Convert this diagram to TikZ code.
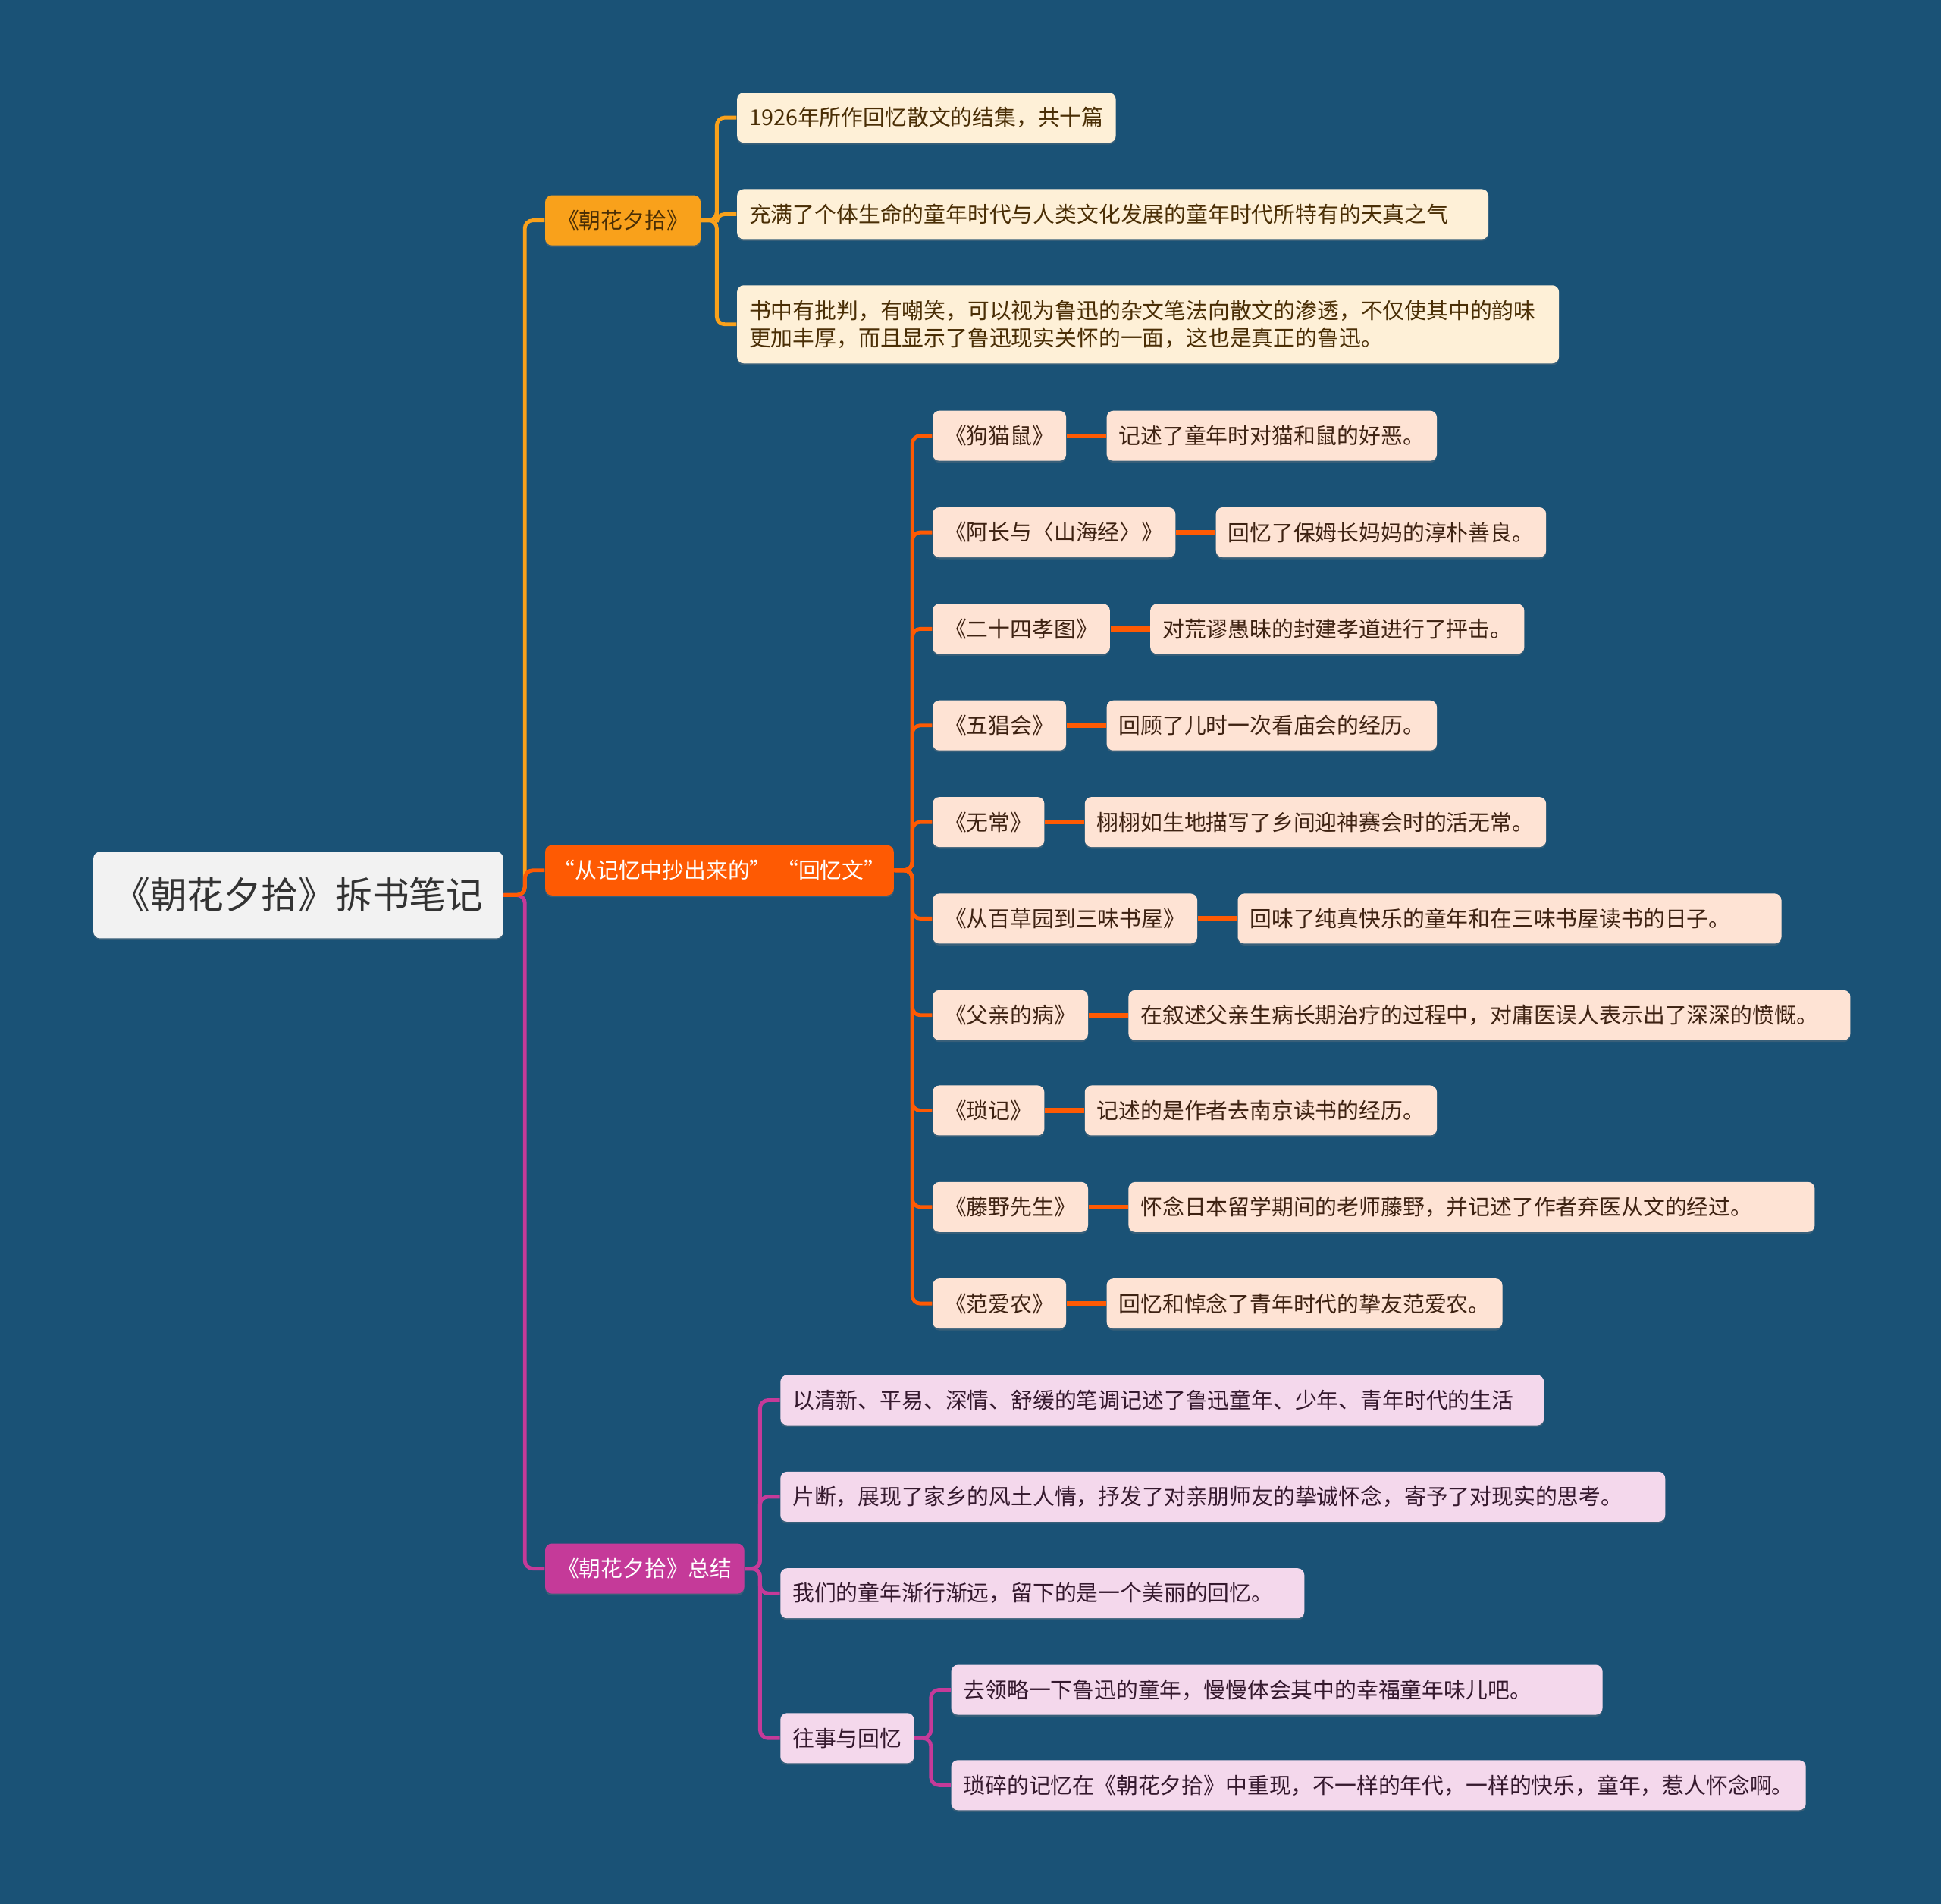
\documentclass[tikz,border=0pt]{standalone}
\usepackage{fontspec}
\setmainfont{Noto Sans CJK SC}
\usetikzlibrary{positioning, backgrounds, shadows}
\definecolor{bgblue}{HTML}{1A5276}
\definecolor{rootfill}{HTML}{F2F2F2}
\definecolor{roottext}{HTML}{333333}
\definecolor{amber}{HTML}{F9A11B}
\definecolor{amberleaf}{HTML}{FEF0D7}
\definecolor{ambertext}{HTML}{4A2E05}
\definecolor{flame}{HTML}{FE5A03}
\definecolor{flameleaf}{HTML}{FEE3D4}
\definecolor{flametext}{HTML}{3E2212}
\definecolor{plum}{HTML}{C53A99}
\definecolor{plumleaf}{HTML}{F4D8EC}
\definecolor{plumtext}{HTML}{35192E}

\begin{document}
\begin{tikzpicture}[
        x=0.016327cm, y=-0.016327cm,
        %% Units: one step = one pixel of the 1568 x 1538 layout, y grows downwards.
        card/.style={rectangle, rounded corners=2.5pt, anchor=west, minimum height=0.66cm, inner xsep=0.16cm, inner ysep=0pt, align=left, font=\fontsize{8.2pt}{10.4pt}\selectfont, drop shadow={shadow xshift=0pt, shadow yshift=-0.7pt, opacity=0.3}},
        rootbox/.style={card, fill=rootfill, text=roottext, minimum height=1.14cm, inner xsep=0.26cm, font=\fontsize{13.9pt}{16pt}\selectfont},
        amberhead/.style={card, fill=amber, text=ambertext},
        amberbox/.style={card, fill=amberleaf, text=ambertext},
        flamehead/.style={card, fill=flame, text=white},
        flamebox/.style={card, fill=flameleaf, text=flametext},
        plumhead/.style={card, fill=plum, text=white},
        plumbox/.style={card, fill=plumleaf, text=plumtext},
        amberline/.style={draw=amber, line width=1.4pt, rounded corners=3pt},
        flameline/.style={draw=flame, line width=1.4pt, rounded corners=3pt},
        plumline/.style={draw=plum, line width=1.4pt, rounded corners=3pt},
        tie/.style={draw=flame, line width=1.8pt}
    ]
    %% --- Root ---
    \node[rootbox] (root) at (75, 723) {《朝花夕拾》拆书笔记};

    %% --- Main branches ---
    \node[amberhead] (book)    at (440, 178)  {《朝花夕拾》};
    \node[flamehead, inner xsep=0.105cm] (memory) at (440, 703) {“从记忆中抄出来的” “回忆文”};
    \node[plumhead]  (summary) at (440, 1267) {《朝花夕拾》总结};

    %% --- Branch 1: about the book ---
    \node[amberbox] (year)   at (595, 95)  {1926年所作回忆散文的结集，共十篇};
    \node[amberbox, text width=9.59cm] (naive) at (595, 173) {充满了个体生命的童年时代与人类文化发展的童年时代所特有的天真之气};
    \node[amberbox, text width=10.52cm, minimum height=1.03cm] (critic) at (595, 262)
        {书中有批判，有嘲笑，可以视为鲁迅的杂文笔法向散文的渗透，不仅使其中的韵味\\更加丰厚，而且显示了鲁迅现实关怀的一面，这也是真正的鲁迅。};

    %% --- Branch 2: the ten essays (title + note) ---
    \node[flamebox] (dog)     at (753, 352)  {《狗猫鼠》};
    \node[flamebox] (achang)  at (753, 430)  {《阿长与〈山海经〉》};
    \node[flamebox] (filial)  at (753, 508)  {《二十四孝图》};
    \node[flamebox] (fair)    at (753, 586)  {《五猖会》};
    \node[flamebox] (wuchang) at (753, 664)  {《无常》};
    \node[flamebox] (garden)  at (753, 742)  {《从百草园到三味书屋》};
    \node[flamebox] (father)  at (753, 820)  {《父亲的病》};
    \node[flamebox] (trifles) at (753, 897)  {《琐记》};
    \node[flamebox] (fujino)  at (753, 975)  {《藤野先生》};
    \node[flamebox] (fan)     at (753, 1053) {《范爱农》};

    \node[flamebox, right=0.52cm of dog]     (dognote)     {记述了童年时对猫和鼠的好恶。};
    \node[flamebox, right=0.52cm of achang]  (achangnote)  {回忆了保姆长妈妈的淳朴善良。};
    \node[flamebox, right=0.52cm of filial]  (filialnote)  {对荒谬愚昧的封建孝道进行了抨击。};
    \node[flamebox, right=0.52cm of fair]    (fairnote)    {回顾了儿时一次看庙会的经历。};
    \node[flamebox, right=0.52cm of wuchang] (wuchangnote) {栩栩如生地描写了乡间迎神赛会时的活无常。};
    \node[flamebox, right=0.52cm of garden, text width=6.85cm]  (gardennote) {回味了纯真快乐的童年和在三味书屋读书的日子。};
    \node[flamebox, right=0.52cm of father, text width=9.20cm]  (fathernote) {在叙述父亲生病长期治疗的过程中，对庸医误人表示出了深深的愤慨。};
    \node[flamebox, right=0.52cm of trifles] (triflesnote) {记述的是作者去南京读书的经历。};
    \node[flamebox, right=0.52cm of fujino, text width=8.73cm]  (fujinonote) {怀念日本留学期间的老师藤野，并记述了作者弃医从文的经过。};
    \node[flamebox, right=0.52cm of fan]     (fannote)     {回忆和悼念了青年时代的挚友范爱农。};

    %% --- Branch 3: summary ---
    \node[plumbox, text width=9.75cm]  (style)  at (630, 1131) {以清新、平易、深情、舒缓的笔调记述了鲁迅童年、少年、青年时代的生活};
    \node[plumbox, text width=11.35cm] (pieces) at (630, 1209) {片断，展现了家乡的风土人情，抒发了对亲朋师友的挚诚怀念，寄予了对现实的思考。};
    \node[plumbox, text width=6.59cm]  (fading) at (630, 1287) {我们的童年渐行渐远，留下的是一个美丽的回忆。};
    \node[plumbox] (past)   at (630, 1404) {往事与回忆};
    \node[plumbox, text width=8.27cm]  (taste)  at (768, 1365) {去领略一下鲁迅的童年，慢慢体会其中的幸福童年味儿吧。};
    \node[plumbox] (again)  at (768, 1442) {琐碎的记忆在《朝花夕拾》中重现，不一样的年代，一样的快乐，童年，惹人怀念啊。};

    %% --- Spine points ---
    \coordinate (s0) at (424, 723);
    \coordinate (s1) at (579, 178);
    \coordinate (s2) at (737, 703);
    \coordinate (s3) at (614, 1267);
    \coordinate (s4) at (752, 1404);

    %% --- Root to branches ---
    \draw[amberline] (root.east) -- (s0) |- (book.west);
    \draw[plumline]  (root.east) -- (s0) |- (summary.west);
    \draw[flameline] (root.east) -- (s0) |- (memory.west);

    %% --- Branch 1 ---
    \draw[amberline] (book.east) -- (s1) |- (year.west);
    \draw[amberline] (book.east) -- (s1) |- (naive.west);
    \draw[amberline] (book.east) -- (s1) |- (critic.west);

    %% --- Branch 2 ---
    \draw[flameline] (memory.east) -- (s2) |- (dog.west);
    \draw[flameline] (memory.east) -- (s2) |- (achang.west);
    \draw[flameline] (memory.east) -- (s2) |- (filial.west);
    \draw[flameline] (memory.east) -- (s2) |- (fair.west);
    \draw[flameline] (memory.east) -- (s2) |- (wuchang.west);
    \draw[flameline] (memory.east) -- (s2) |- (garden.west);
    \draw[flameline] (memory.east) -- (s2) |- (father.west);
    \draw[flameline] (memory.east) -- (s2) |- (trifles.west);
    \draw[flameline] (memory.east) -- (s2) |- (fujino.west);
    \draw[flameline] (memory.east) -- (s2) |- (fan.west);

    \draw[tie] (dog.east)     -- (dognote.west);
    \draw[tie] (achang.east)  -- (achangnote.west);
    \draw[tie] (filial.east)  -- (filialnote.west);
    \draw[tie] (fair.east)    -- (fairnote.west);
    \draw[tie] (wuchang.east) -- (wuchangnote.west);
    \draw[tie] (garden.east)  -- (gardennote.west);
    \draw[tie] (father.east)  -- (fathernote.west);
    \draw[tie] (trifles.east) -- (triflesnote.west);
    \draw[tie] (fujino.east)  -- (fujinonote.west);
    \draw[tie] (fan.east)     -- (fannote.west);

    %% --- Branch 3 ---
    \draw[plumline] (summary.east) -- (s3) |- (style.west);
    \draw[plumline] (summary.east) -- (s3) |- (pieces.west);
    \draw[plumline] (summary.east) -- (s3) |- (fading.west);
    \draw[plumline] (summary.east) -- (s3) |- (past.west);
    \draw[plumline] (past.east) -- (s4) |- (taste.west);
    \draw[plumline] (past.east) -- (s4) |- (again.west);

    %% --- Page background ---
    \begin{scope}[on background layer]
        \fill[bgblue] (0, 0) rectangle (1568, 1538);
    \end{scope}
\end{tikzpicture}
\end{document}
